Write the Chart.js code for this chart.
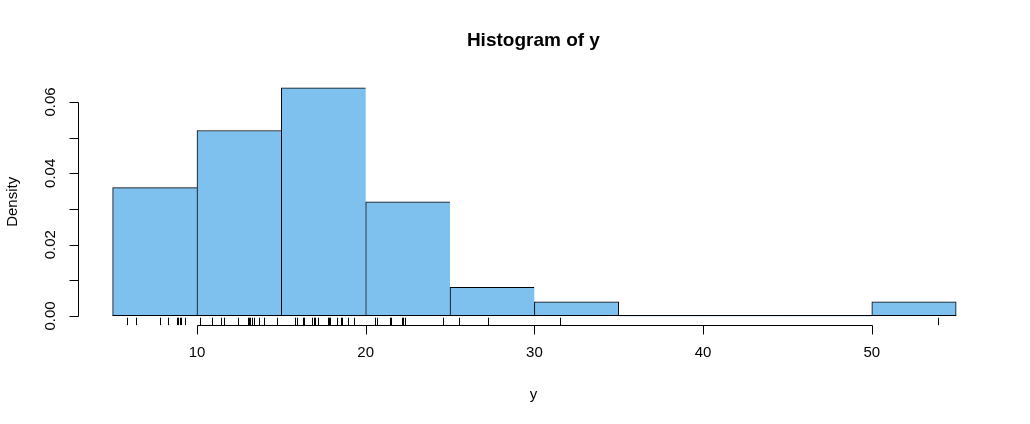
<!DOCTYPE html>
<html lang="en">
<head>
    <meta charset="UTF-8">
    <title>Histogram of y</title>
    <script src="https://cdn.jsdelivr.net/npm/chart.js"></script>
    <style>
        body { margin: 0; background: #fff; }
        #wrap { width: 1030px; height: 424px; position: relative; }
    </style>
</head>
<body>
    <div id="wrap"><canvas id="histChart" width="1030" height="424"></canvas></div>

    <script>
        // Histogram bins (breaks) and densities
        const binEdges = [5, 10, 15, 20, 25, 30, 35, 40, 45, 50, 55];
        const density = [0.036, 0.052, 0.064, 0.032, 0.008, 0.004, 0, 0, 0, 0.004];

        // Raw observations shown as the rug
        const yValues = [
            5.83, 6.38, 7.82, 8.26, 8.8, 8.9, 8.98, 9.05, 9.27,
            10.18, 10.9, 11.44, 11.6, 12.45, 13.04, 13.1, 13.14, 13.24, 13.4, 13.69, 14.0, 14.72,
            15.81, 15.95, 16.28, 16.33, 16.83, 16.92, 16.99, 17.15, 17.78, 17.8, 17.88, 18.32, 18.55, 18.6, 18.93, 19.31,
            20.53, 20.67, 21.46, 21.5, 22.13, 22.2, 22.31, 24.6,
            25.55, 27.27,
            31.54,
            53.94
        ];

        // Axis ticks
        const xTicks = [10, 20, 30, 40, 50];
        const yTicks = [0, 0.01, 0.02, 0.03, 0.04, 0.05, 0.06];
        const yTickLabels = ['0.00', '', '0.02', '', '0.04', '', '0.06'];

        const FONT = '"Liberation Sans", Arial, sans-serif';

        // R style extended ranges (4% each side)
        const xMin = binEdges[0] - 0.04 * (binEdges[binEdges.length - 1] - binEdges[0]);
        const xMax = binEdges[binEdges.length - 1] + 0.04 * (binEdges[binEdges.length - 1] - binEdges[0]);
        const yTop = Math.max(...density);
        const yMin = -0.04 * yTop;
        const yMax = yTop * 1.04;

        const barData = density.map((d, i) => ({ x: (binEdges[i] + binEdges[i + 1]) / 2, y: d }));

        // Baseline, axes, labels, title and rug drawn R-like
        const rAxes = {
            id: 'rAxes',
            afterDraw(chart) {
                const ctx = chart.ctx;
                const xs = chart.scales.x;
                const ys = chart.scales.y;
                const area = chart.chartArea;
                ctx.save();
                ctx.strokeStyle = '#000';
                ctx.fillStyle = '#000';
                ctx.lineWidth = 1;

                // histogram baseline (zero height bins show as a line)
                const y0 = Math.round(ys.getPixelForValue(0)) - 0.5;
                ctx.beginPath();
                ctx.moveTo(xs.getPixelForValue(binEdges[0]), y0);
                ctx.lineTo(xs.getPixelForValue(binEdges[binEdges.length - 1]), y0);
                ctx.stroke();

                // rug
                const rugLen = 0.03 * (area.bottom - area.top);
                ctx.beginPath();
                yValues.forEach(v => {
                    const px = Math.round(xs.getPixelForValue(v)) + 0.5;
                    ctx.moveTo(px, area.bottom);
                    ctx.lineTo(px, area.bottom - rugLen);
                });
                ctx.stroke();

                // x axis
                const xb = Math.round(area.bottom) + 0.5;
                ctx.beginPath();
                ctx.moveTo(Math.round(xs.getPixelForValue(xTicks[0])) + 0.5, xb);
                ctx.lineTo(Math.round(xs.getPixelForValue(xTicks[xTicks.length - 1])) + 0.5, xb);
                xTicks.forEach(t => {
                    const px = Math.round(xs.getPixelForValue(t)) + 0.5;
                    ctx.moveTo(px, xb);
                    ctx.lineTo(px, xb + 9);
                });
                ctx.stroke();
                ctx.font = '15px ' + FONT;
                ctx.textAlign = 'center';
                ctx.textBaseline = 'middle';
                xTicks.forEach(t => {
                    ctx.fillText(String(t), xs.getPixelForValue(t), xb + 27);
                });

                // y axis
                const yl = Math.round(area.left) - 0.5;
                ctx.beginPath();
                ctx.moveTo(yl, Math.round(ys.getPixelForValue(yTicks[0])) + 0.5);
                ctx.lineTo(yl, Math.round(ys.getPixelForValue(yTicks[yTicks.length - 1])) + 0.5);
                yTicks.forEach(t => {
                    const py = Math.round(ys.getPixelForValue(t)) + 0.5;
                    ctx.moveTo(yl, py);
                    ctx.lineTo(yl - 9, py);
                });
                ctx.stroke();
                yTicks.forEach((t, i) => {
                    if (!yTickLabels[i]) return;
                    ctx.save();
                    ctx.translate(yl - 28, ys.getPixelForValue(t));
                    ctx.rotate(-Math.PI / 2);
                    ctx.fillText(yTickLabels[i], 0, 0);
                    ctx.restore();
                });

                // axis titles
                const cx = (area.left + area.right) / 2;
                const cy = (area.top + area.bottom) / 2;
                ctx.fillText('y', cx - 1, 395);
                ctx.save();
                ctx.translate(13, cy);
                ctx.rotate(-Math.PI / 2);
                ctx.fillText('Density', 0, 0);
                ctx.restore();

                // main title
                ctx.font = 'bold 19px ' + FONT;
                ctx.textBaseline = 'alphabetic';
                ctx.fillText('Histogram of y', cx - 1, 46);
                ctx.restore();
            }
        };

        new Chart(document.getElementById('histChart'), {
            type: 'bar',
            data: {
                datasets: [{
                    data: barData,
                    backgroundColor: '#7EC0EE',
                    borderColor: '#000',
                    borderSkipped: false,
                    borderWidth: c => {
                        const i = c.dataIndex;
                        if (density[i] === 0) return 0;
                        const lastInRun = i === density.length - 1 || density[i + 1] === 0;
                        return { top: 1, left: 1, bottom: 0, right: lastInRun ? 1 : 0 };
                    },
                    barPercentage: 1,
                    categoryPercentage: 1
                }]
            },
            options: {
                responsive: false,
                animation: false,
                events: [],
                layout: { padding: { left: 78.9, right: 40.1, top: 78.6, bottom: 98.9 } },
                plugins: { legend: { display: false }, tooltip: { enabled: false } },
                scales: {
                    x: {
                        type: 'linear', min: xMin, max: xMax, offset: false, display: false,
                        // ticks on the bin breaks so bar width = bin width
                        afterBuildTicks: s => { s.ticks = binEdges.map(v => ({ value: v })); }
                    },
                    y: { type: 'linear', min: yMin, max: yMax, display: false }
                }
            },
            plugins: [rAxes]
        });
    </script>
</body>
</html>
